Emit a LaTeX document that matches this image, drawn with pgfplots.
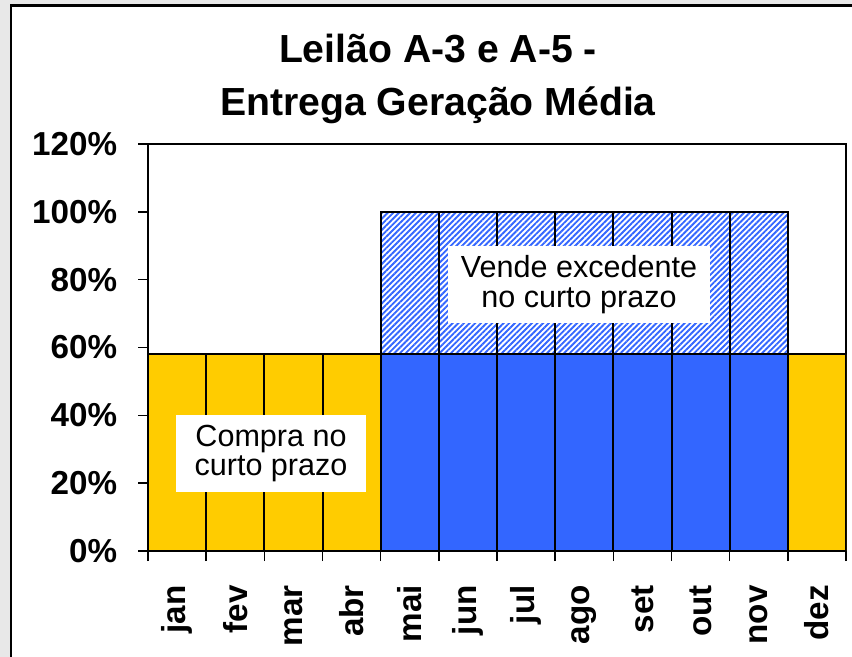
\documentclass[border=0pt]{standalone}
\usepackage{fontspec}
\setmainfont{Liberation Sans}
\usepackage{pgfplots}
\pgfplotsset{compat=1.18}
\usetikzlibrary{patterns.meta}
\definecolor{amarelo}{HTML}{FFCC00}
\definecolor{azul}{HTML}{3366FF}
\definecolor{fundo}{HTML}{E8E8E8}
\begin{document}
\begin{tikzpicture}
\useasboundingbox (0,0) rectangle (639bp,-492.75bp);
\fill[fundo] (0,0) rectangle (639bp,-492.75bp);
\fill[white] (8.4bp,-4.1bp) rectangle (639bp,-492.75bp);
\draw[line width=1.7bp] (8.4bp,-492.75bp) -- (8.4bp,-4.1bp) -- (639bp,-4.1bp);
\node[anchor=base, font=\bfseries\fontsize{29.5}{34}\selectfont] at (328.5bp,-46.5bp) {Leilão A-3 e A-5 -};
\node[anchor=base, font=\bfseries\fontsize{29.5}{34}\selectfont] at (328.5bp,-86.25bp) {Entrega Geração Média};
\begin{axis}[
  at={(111bp,-413.25bp)}, anchor=south west,
  width=523.5bp, height=305.25bp, scale only axis,
  xmin=-0.5, xmax=11.5, ymin=0, ymax=120,
  xtick={-0.5,0.5,...,11.5}, x tick label as interval,
  xticklabels={jan,fev,mar,abr,mai,jun,jul,ago,set,out,nov,dez},
  ytick={0,20,...,120},
  yticklabels={0\%,20\%,40\%,60\%,80\%,100\%,120\%},
  tick align=outside, tick pos=left, major tick length=7.5bp,
  axis line style={line width=1.5bp},
  tick style={line width=1.2bp, black},
  ticklabel style={font=\bfseries\fontsize{25}{28}\selectfont},
  xticklabel style={rotate=90, anchor=east, inner xsep=18bp},
  yticklabel style={inner xsep=15.5bp},
  axis background/.style={fill=white},
]
\addplot[ybar, bar width=1, bar shift=0pt, draw=black, line width=1.5bp,
  pattern={Lines[angle=45,distance=3bp,line width=1.4bp]}, pattern color=azul]
  coordinates {(4,100) (5,100) (6,100) (7,100) (8,100) (9,100) (10,100)};
\addplot[ybar, bar width=1, bar shift=0pt, draw=black, line width=1.5bp, fill=azul]
  coordinates {(4,58) (5,58) (6,58) (7,58) (8,58) (9,58) (10,58)};
\addplot[ybar, bar width=1, bar shift=0pt, draw=black, line width=1.5bp, fill=amarelo]
  coordinates {(0,58) (1,58) (2,58) (3,58) (11,58)};
\node[fill=white, align=center, font=\fontsize{23}{22.5}\selectfont,
  minimum width=142.5bp, minimum height=57.75bp, inner sep=0pt]
  at (axis cs:1.615,28.75) {Compra no\\curto prazo};
\node[fill=white, align=center, font=\fontsize{23}{22.5}\selectfont,
  minimum width=196.5bp, minimum height=57.75bp, inner sep=0pt]
  at (axis cs:6.91,78.6) {Vende excedente\\no curto prazo};
\end{axis}
\end{tikzpicture}
\end{document}
